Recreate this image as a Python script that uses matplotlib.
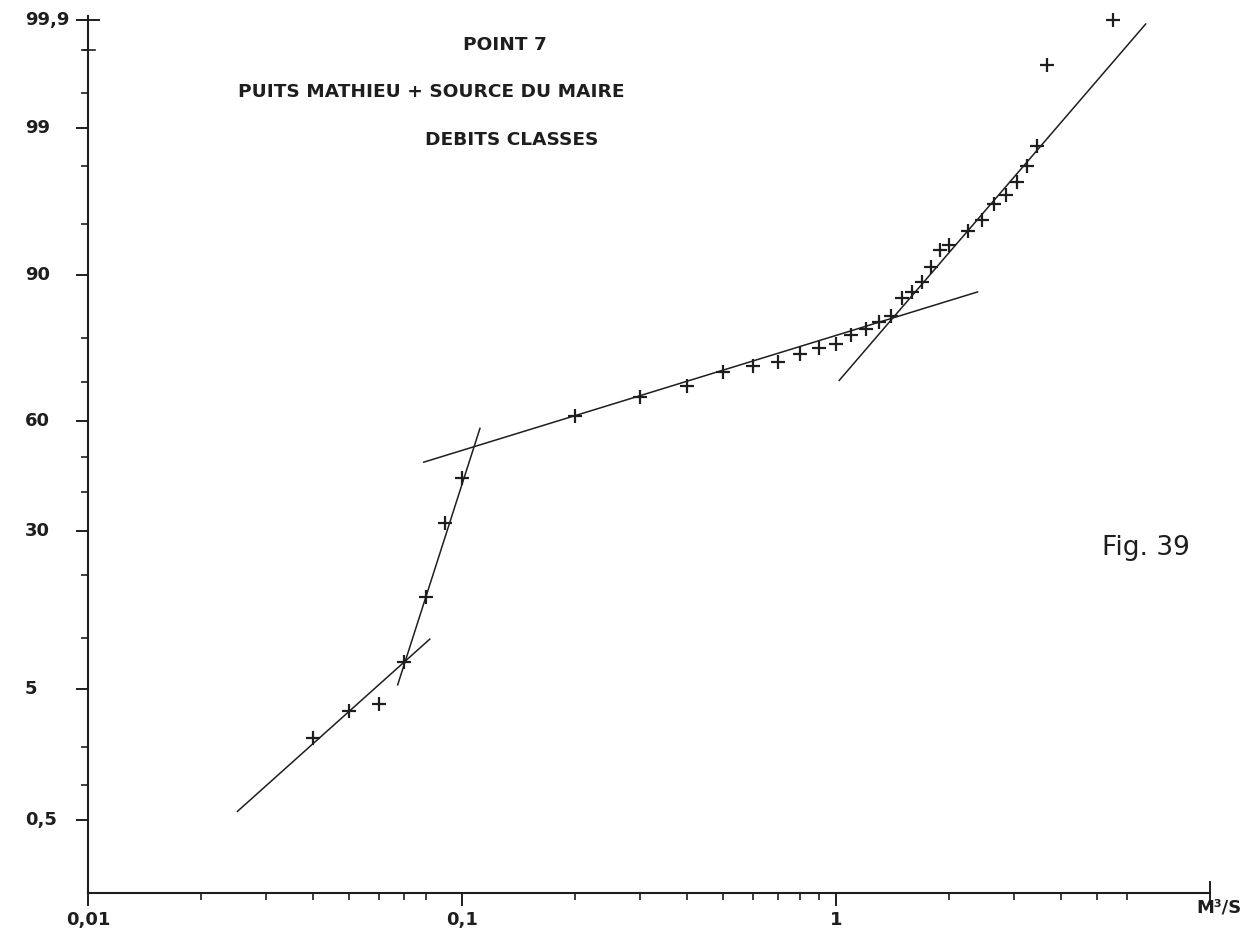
import numpy as np
import matplotlib
matplotlib.use("Agg")
import matplotlib.pyplot as plt
from matplotlib.ticker import FixedLocator, NullFormatter
from matplotlib.transforms import blended_transform_factory
from statistics import NormalDist

# discharge (m3/s) and cumulative frequency (%)
debit = [0.04, 0.05, 0.06, 0.07, 0.08, 0.09, 0.1, 0.2, 0.3, 0.4, 0.5, 0.6, 0.7,
         0.8, 0.9, 1.0, 1.1, 1.2, 1.3, 1.4, 1.5, 1.6, 1.7, 1.8, 1.9, 2.0, 2.25,
         2.45, 2.65, 2.85, 3.05, 3.25, 3.45, 3.67, 5.5]
freq = [2.3, 3.6, 4.0, 7.3, 16.0, 31.8, 43.9, 61.2, 66.3, 69.1, 72.5, 73.9, 74.8,
        76.5, 77.8, 78.7, 80.5, 81.6, 82.9, 84.0, 86.9, 87.8, 89.1, 91.0, 92.8,
        93.3, 94.5, 95.3, 96.3, 96.8, 97.4, 98.0, 98.6, 99.72, 99.9]

# fitted straight segments (endpoints)
seg_low_q, seg_low_p = [0.0251, 0.082], [0.6, 9.8]
seg_steep_q, seg_steep_p = [0.0673, 0.1117], [5.3, 57.9]
seg_mid_q, seg_mid_p = [0.079, 2.39], [48.4, 87.8]
seg_high_q, seg_high_p = [1.02, 6.73], [70.5, 99.89]

y_major = [0.5, 5, 30, 60, 90, 99, 99.9]
y_labels = ["0,5", "5", "30", "60", "90", "99", "99,9"]
y_minor = [1, 2, 10, 20, 40, 50, 70, 80, 95, 98, 99.5, 99.8]
x_major = [0.01, 0.1, 1]
x_labels = ["0,01", "0,1", "1"]
x_minor = [0.02, 0.03, 0.04, 0.05, 0.06, 0.07, 0.08,
           0.2, 0.3, 0.4, 0.5, 0.6, 0.7, 0.8, 0.9, 2, 3, 4, 5, 6]

nd = NormalDist()


def to_z(p):
    p = np.clip(np.asarray(p, dtype=float), 1e-6, 100 - 1e-6)
    return np.vectorize(lambda v: nd.inv_cdf(v / 100), otypes=[float])(p)


def from_z(z):
    return np.vectorize(lambda v: nd.cdf(v) * 100, otypes=[float])(np.asarray(z, dtype=float))


ink = "#1e1e1e"
W, H = 1246, 934
fig = plt.figure(figsize=(W / 100, H / 100), dpi=100)
ax = fig.add_axes([88 / W, 1 - 893 / H, (1210 - 88) / W, (893 - 20) / H])

ax.set_xscale("log")
ax.set_yscale("function", functions=(to_z, from_z))
ax.set_xlim(0.01, 10)
ax.set_ylim(0.1, 99.9)

for q, p in [(seg_low_q, seg_low_p), (seg_steep_q, seg_steep_p),
             (seg_mid_q, seg_mid_p), (seg_high_q, seg_high_p)]:
    ax.plot(q, p, color=ink, lw=1.1)

ax.plot(debit, freq, ls="none", marker="+", ms=10, mew=1.6, color=ink, clip_on=False)

for s in ["top", "right"]:
    ax.spines[s].set_visible(False)
for s in ["left", "bottom"]:
    ax.spines[s].set_linewidth(1.5)
    ax.spines[s].set_color(ink)
ax.spines["left"].set_bounds(0.1, 99.91)

ax.yaxis.set_major_locator(FixedLocator(y_major))
ax.yaxis.set_minor_locator(FixedLocator(y_minor))
ax.xaxis.set_major_locator(FixedLocator(x_major))
ax.xaxis.set_minor_locator(FixedLocator(x_minor))
ax.yaxis.set_major_formatter(NullFormatter())
ax.yaxis.set_minor_formatter(NullFormatter())
ax.xaxis.set_major_formatter(NullFormatter())
ax.xaxis.set_minor_formatter(NullFormatter())
ax.tick_params(which="major", length=9, width=1.4, color=ink)
ax.tick_params(which="minor", length=5, width=1.2, color=ink)

# crossing ticks at the ends of the axes
tx = blended_transform_factory(ax.transData, ax.transAxes)
ax.plot([10, 10], [-0.013, 0.013], transform=tx, color=ink, lw=1.4, clip_on=False)
ty = blended_transform_factory(ax.transAxes, ax.transData)
ax.plot([-0.007, 0.01], [99.9, 99.9], transform=ty, color=ink, lw=1.4, clip_on=False)
ax.plot([-0.004, 0.006], [99.8, 99.8], transform=ty, color=ink, lw=1.2, clip_on=False)

lab_font = dict(fontsize=13, fontweight="bold", color=ink, family="DejaVu Sans")
tl = blended_transform_factory(fig.transFigure, ax.transData)
for v, t in zip(y_major, y_labels):
    ax.text(25 / W, v, t, transform=tl, ha="left", va="center", **lab_font)
tb = blended_transform_factory(ax.transData, fig.transFigure)
for v, t in zip(x_major, x_labels):
    ax.text(v, 1 - 920 / H, t, transform=tb, ha="center", va="center", **lab_font)
fig.text(1196 / W, 1 - 908 / H, "M³/S", ha="left", va="center", **lab_font)

title_font = dict(fontsize=13.3, fontweight="bold", color=ink, ha="center", va="center")
fig.text(505 / W, 1 - 45 / H, "POINT 7", **title_font)
fig.text(431 / W, 1 - 92 / H, "PUITS MATHIEU + SOURCE DU MAIRE", **title_font)
fig.text(512 / W, 1 - 140 / H, "DEBITS CLASSES", **title_font)

fig.text(1146 / W, 1 - 548 / H, "Fig. 39", fontsize=19, color=ink,
         ha="center", va="center")

fig.savefig("out.png", dpi=100, facecolor="white")
